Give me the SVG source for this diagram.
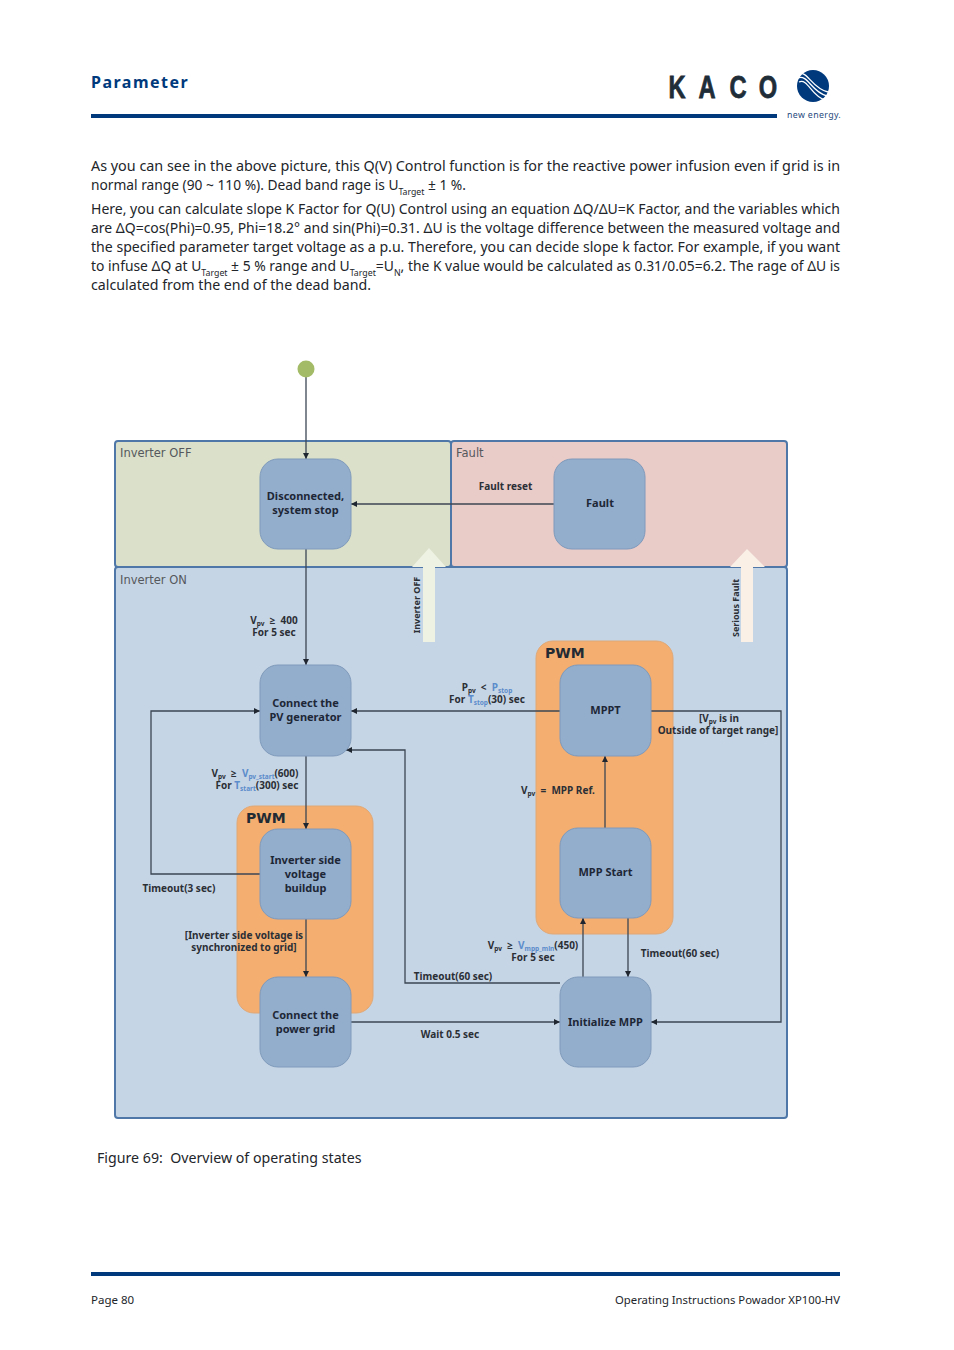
<svg xmlns="http://www.w3.org/2000/svg" width="954" height="1350" viewBox="0 0 954 1350">
<style>
.body{font-family:"Noto Sans","Open Sans","DejaVu Sans",sans-serif;font-size:15px;fill:#22252a}
.sub{font-size:9.5px}
.foot{font-family:"Noto Sans","Open Sans",sans-serif;font-size:11.5px;fill:#22252a}
.zone{stroke:#4f78a8;stroke-width:2}
.zt{font-family:"DejaVu Sans",sans-serif;font-size:11.5px;fill:#55585c}
.node{fill:#93adcd;stroke:#7f9abb;stroke-width:1}
.pwm{fill:#f4ae70;stroke:#dfa877;stroke-width:1}
.pt{font-family:"DejaVu Sans",sans-serif;font-size:14px;font-weight:bold;fill:#222a33}
.nt{font-family:"Noto Sans","Open Sans",sans-serif;font-size:11px;font-weight:bold;fill:#1d2736;text-anchor:middle}
.lb{font-family:"Noto Sans","Open Sans",sans-serif;font-size:10px;font-weight:bold;fill:#2b2f36;text-anchor:middle}
.rot{font-size:9px}
.s{font-size:6.5px}
.b{fill:#5b8ccb}
.c{fill:none;stroke:#3c4653;stroke-width:1.3}
.sp{white-space:pre}
</style>
<defs>
<marker id="ah" markerWidth="7" markerHeight="7" refX="6" refY="3" orient="auto" markerUnits="userSpaceOnUse"><path d="M0 0L6 3L0 6Z" fill="#1f2630"/></marker>
</defs>
<rect width="954" height="1350" fill="#ffffff"/>

<g id="header">
<text x="91" y="88" font-family="Noto Sans,Open Sans,sans-serif" font-size="16" font-weight="bold" letter-spacing="1.5" fill="#003a7d">Parameter</text>
<rect x="91" y="114" width="686" height="4" fill="#003a7d"/>
<g font-family="Liberation Sans,sans-serif" font-size="32" font-weight="bold" fill="#1e2d38" stroke="#1e2d38" stroke-width=".8" text-anchor="middle">
<text transform="translate(677 98) scale(.74 1)">K</text>
<text transform="translate(707 98) scale(.74 1)">A</text>
<text transform="translate(738 98) scale(.74 1)">C</text>
<text transform="translate(768 98) scale(.74 1)">O</text>
</g>
<circle cx="813" cy="86" r="16" fill="#003a7d"/>
<path d="M798 74C808 70 811 88 828 92M798 78C808 74 811 92 827 96M799 82C808 78 811 96 825 100" fill="none" stroke="#ffffff" stroke-width="1.3"/>
<text x="787" y="118" font-family="Noto Sans,sans-serif" font-size="8.800" letter-spacing=".35" fill="#1f4a7d">new energy.</text>
</g>

<g id="body-text">
<text class="body" x="91" y="171" textLength="749" lengthAdjust="spacingAndGlyphs">As you can see in the above picture, this Q(V) Control function is for the reactive power infusion even if grid is in</text>
<text class="body" x="91" y="190" textLength="375" lengthAdjust="spacingAndGlyphs">normal range (90 ~ 110 %). Dead band rage is U<tspan class="sub" dy="5">Target</tspan><tspan dy="-5"> ± 1 %.</tspan></text>
<text class="body" x="91" y="214" textLength="749" lengthAdjust="spacingAndGlyphs">Here, you can calculate slope K Factor for Q(U) Control using an equation ΔQ/ΔU=K Factor, and the variables which</text>
<text class="body" x="91" y="233" textLength="749" lengthAdjust="spacingAndGlyphs">are ΔQ=cos(Phi)=0.95, Phi=18.2° and sin(Phi)=0.31. ΔU is the voltage difference between the measured voltage and</text>
<text class="body" x="91" y="252" textLength="749" lengthAdjust="spacingAndGlyphs">the specified parameter target voltage as a p.u. Therefore, you can decide slope k factor. For example, if you want</text>
<text class="body" x="91" y="271" textLength="749" lengthAdjust="spacingAndGlyphs">to infuse ΔQ at U<tspan class="sub" dy="5">Target</tspan><tspan dy="-5"> ± 5 % range and U</tspan><tspan class="sub" dy="5">Target</tspan><tspan dy="-5">=U</tspan><tspan class="sub" dy="5">N</tspan><tspan dy="-5">, the K value would be calculated as 0.31/0.05=6.2. The rage of ΔU is</tspan></text>
<text class="body" x="91" y="290" textLength="280" lengthAdjust="spacingAndGlyphs">calculated from the end of the dead band.</text>
</g>

<g id="zones">
<rect id="zone-off" class="zone" x="115" y="441" width="336" height="126" rx="3" fill="#dae0ca"/>
<rect id="zone-fault" class="zone" x="451" y="441" width="336" height="126" rx="3" fill="#e9cbc8"/>
<rect id="zone-on" class="zone" x="115" y="567" width="672" height="551" rx="3" fill="#c6d5e5"/>
<text class="zt" x="120" y="457">Inverter OFF</text>
<text class="zt" x="456" y="457">Fault</text>
<text class="zt" x="120" y="584">Inverter ON</text>
</g>

<g id="block-arrows">
<path d="M423 642V567H412L429 548L446 567H435V642Z" fill="#eef2e2"/>
<path d="M741 642V567H730L747 549L765 567H753V642Z" fill="#faf0e6"/>
<text class="lb rot" transform="translate(420 605) rotate(-90)">Inverter OFF</text>
<text class="lb rot" transform="translate(739 608) rotate(-90)">Serious Fault</text>
</g>

<g id="pwm-groups">
<g id="pwm-left"><rect class="pwm" x="237" y="806" width="136" height="207" rx="17"/><text class="pt" x="246" y="823">PWM</text></g>
<g id="pwm-right"><rect class="pwm" x="536" y="641" width="137" height="293" rx="17"/><text class="pt" x="545" y="658">PWM</text></g>
</g>

<g id="connectors">
<path class="c" d="M306 377V459" marker-end="url(#ah)"/>
<path class="c" d="M554 504H351" marker-end="url(#ah)"/>
<path class="c" d="M306 549V665" marker-end="url(#ah)"/>
<path class="c" d="M306 756V829" marker-end="url(#ah)"/>
<path class="c" d="M306 919V977" marker-end="url(#ah)"/>
<path class="c" d="M260 874H151V711H260" marker-end="url(#ah)"/>
<path class="c" d="M560 711H351" marker-end="url(#ah)"/>
<path class="c" d="M651 711H781V1022H651" marker-end="url(#ah)"/>
<path class="c" d="M560 983H405V750H346" marker-end="url(#ah)"/>
<path class="c" d="M351 1022H560" marker-end="url(#ah)"/>
<path class="c" d="M605 828V756" marker-end="url(#ah)"/>
<path class="c" d="M583 977V918" marker-end="url(#ah)"/>
<path class="c" d="M628 918V977" marker-end="url(#ah)"/>
</g>

<g id="start"><circle cx="306" cy="369" r="8.5" fill="#a3bb66"/></g>
<g id="n-disconnected"><rect class="node" x="260" y="459" width="91" height="90" rx="18"/><text class="nt" x="305.500" y="500">Disconnected,</text><text class="nt" x="305.500" y="514">system stop</text></g>
<g id="n-fault"><rect class="node" x="554" y="459" width="91" height="90" rx="18"/><text class="nt" x="600" y="507">Fault</text></g>
<g id="n-connect-pv"><rect class="node" x="260" y="665" width="91" height="91" rx="18"/><text class="nt" x="305.500" y="707">Connect the</text><text class="nt" x="305.500" y="721">PV generator</text></g>
<g id="n-buildup"><rect class="node" x="260" y="829" width="91" height="90" rx="18"/><text class="nt" x="305.500" y="864">Inverter side</text><text class="nt" x="305.500" y="878">voltage</text><text class="nt" x="305.500" y="892">buildup</text></g>
<g id="n-grid"><rect class="node" x="260" y="977" width="91" height="90" rx="18"/><text class="nt" x="305.500" y="1019">Connect the</text><text class="nt" x="305.500" y="1033">power grid</text></g>
<g id="n-mppt"><rect class="node" x="560" y="665" width="91" height="91" rx="18"/><text class="nt" x="605.500" y="714">MPPT</text></g>
<g id="n-mppstart"><rect class="node" x="560" y="828" width="91" height="90" rx="18"/><text class="nt" x="605.500" y="876">MPP Start</text></g>
<g id="n-init"><rect class="node" x="560" y="977" width="91" height="90" rx="18"/><text class="nt" x="605.500" y="1026">Initialize MPP</text></g>

<g id="labels">
<text class="lb" x="505.500" y="490">Fault reset</text>
<text class="lb sp" x="274" y="624">V<tspan class="s" dy="2">pv</tspan><tspan dy="-2">  ≥  400</tspan></text>
<text class="lb" x="274" y="636">For 5 sec</text>
<text class="lb sp" x="487" y="691">P<tspan class="s" dy="2">pv</tspan><tspan dy="-2">  &lt;  </tspan><tspan class="b">P</tspan><tspan class="s b" dy="2">stop</tspan></text>
<text class="lb" x="487" y="703">For <tspan class="b">T</tspan><tspan class="s b" dy="2">stop</tspan><tspan dy="-2">(30) sec</tspan></text>
<text class="lb" x="719" y="722">[V<tspan class="s" dy="2">pv</tspan><tspan dy="-2"> is in</tspan></text>
<text class="lb" x="718" y="734">Outside of target range]</text>
<text class="lb sp" x="255" y="777">V<tspan class="s" dy="2">pv</tspan><tspan dy="-2">  ≥  </tspan><tspan class="b">V</tspan><tspan class="s b" dy="2">pv_start</tspan><tspan dy="-2">(600)</tspan></text>
<text class="lb" x="257" y="789">For <tspan class="b">T</tspan><tspan class="s b" dy="2">start</tspan><tspan dy="-2">(300) sec</tspan></text>
<text class="lb sp" x="558" y="794">V<tspan class="s" dy="2">pv</tspan><tspan dy="-2">  =  MPP Ref.</tspan></text>
<text class="lb" x="179" y="892">Timeout(3 sec)</text>
<text class="lb" x="244" y="939">[Inverter side voltage is</text>
<text class="lb" x="244" y="951">synchronized to grid]</text>
<text class="lb sp" x="533" y="949">V<tspan class="s" dy="2">pv</tspan><tspan dy="-2">  ≥  </tspan><tspan class="b">V</tspan><tspan class="s b" dy="2">mpp_min</tspan><tspan dy="-2">(450)</tspan></text>
<text class="lb" x="533" y="961">For 5 sec</text>
<text class="lb" x="680" y="957">Timeout(60 sec)</text>
<text class="lb" x="453" y="980">Timeout(60 sec)</text>
<text class="lb" x="450" y="1038">Wait 0.5 sec</text>
</g>

<g id="caption-footer">
<text x="97" y="1163" font-family="Noto Sans,Open Sans,sans-serif" font-size="14.200" fill="#22252a" style="white-space:pre">Figure 69:  Overview of operating states</text>
<rect x="91" y="1272" width="749" height="4" fill="#003a7d"/>
<text class="foot" x="91" y="1304">Page 80</text>
<text class="foot" x="840" y="1304" text-anchor="end" textLength="225" lengthAdjust="spacingAndGlyphs">Operating Instructions Powador XP100-HV</text>
</g>
</svg>
